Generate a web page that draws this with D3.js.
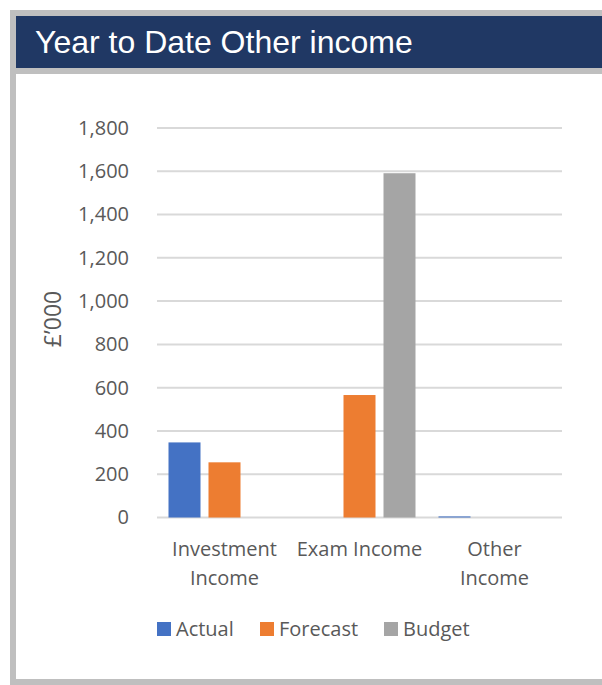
<!DOCTYPE html>
<html>
<head>
<meta charset="utf-8">
<script src="https://cdn.jsdelivr.net/npm/d3@7"></script>
<style>
  body { margin: 0; background: #fff; }
  svg text { font-family: "Open Sans", sans-serif; }
</style>
</head>
<body>
<svg id="svg" width="602" height="685"></svg>
<script>
// Data (£'000)
var categories = ['Investment Income', 'Exam Income', 'Other Income'];
var categoryLines = [['Investment', 'Income'], ['Exam Income'], ['Other', 'Income']];
var seriesNames = ['Actual', 'Forecast', 'Budget'];
var actual = [347, 0, 5];
var forecast = [255, 566, 0];
var budget = [0, 1591, 0];
var yTicks = [0, 200, 400, 600, 800, 1000, 1200, 1400, 1600, 1800];

var colors = ['#4472c4', '#ed7d31', '#a5a5a5'];
var seriesValues = [actual, forecast, budget];

var svg = d3.select('#svg');

// frame + title bar
svg.append('rect').attr('x', 10).attr('y', 10).attr('width', 600).attr('height', 675).attr('fill', '#bfbfbf');
svg.append('rect').attr('x', 16).attr('y', 16).attr('width', 590).attr('height', 52).attr('fill', '#203864');
svg.append('rect').attr('x', 16).attr('y', 74).attr('width', 590).attr('height', 605).attr('fill', '#fff');
svg.append('text')
  .attr('x', 35).attr('y', 53)
  .attr('fill', '#fff')
  .style('font-family', '"Liberation Sans", Arial, sans-serif')
  .style('font-size', '32px')
  .text('Year to Date Other income');

// scales
var plotLeft = 157, plotRight = 562, plotTop = 128, plotBottom = 517.5;
var y = d3.scaleLinear().domain([0, 1800]).range([plotBottom, plotTop]);
var x0 = d3.scaleBand().domain(categories).range([plotLeft, plotRight]);
var x1 = d3.scaleBand().domain(seriesNames)
  .range([11.5, x0.bandwidth() - 11.5])
  .paddingInner(0.2);

// gridlines
svg.append('g').selectAll('line').data(yTicks).enter().append('line')
  .attr('x1', plotLeft).attr('x2', plotRight)
  .attr('y1', d => y(d)).attr('y2', d => y(d))
  .attr('stroke', '#d9d9d9')
  .attr('stroke-width', 2);

// y axis labels
var yAxis = svg.append('g')
  .attr('transform', 'translate(' + (plotLeft - 28) + ',0)')
  .call(d3.axisLeft(y).tickValues(yTicks).tickFormat(d3.format(',')).tickSize(0).tickPadding(0));
yAxis.select('.domain').remove();
yAxis.selectAll('text')
  .attr('fill', '#595959')
  .style('font-size', '20px')
  .style('font-family', '"Open Sans", sans-serif');

// y title
svg.append('text')
  .attr('transform', 'translate(61,319) rotate(-90)')
  .attr('text-anchor', 'middle')
  .attr('fill', '#595959')
  .style('font-size', '23px')
  .text('£’000');

// bars
var groups = svg.append('g').selectAll('g').data(categories).enter().append('g')
  .attr('transform', d => 'translate(' + x0(d) + ',0)');
groups.selectAll('rect')
  .data((d, i) => seriesNames.map((s, j) => ({ series: s, value: seriesValues[j][i], color: colors[j] })))
  .enter().append('rect')
  .attr('x', d => x1(d.series))
  .attr('width', x1.bandwidth())
  .attr('y', d => y(d.value))
  .attr('height', d => y(0) - y(d.value))
  .attr('fill', d => d.color);

// category labels
var catLabels = svg.append('g').selectAll('text').data(categories).enter().append('text')
  .attr('x', d => x0(d) + x0.bandwidth() / 2)
  .attr('y', 556)
  .attr('text-anchor', 'middle')
  .attr('fill', '#595959')
  .style('font-size', '20px');
catLabels.selectAll('tspan')
  .data((d, i) => categoryLines[i])
  .enter().append('tspan')
  .attr('x', function() { return d3.select(this.parentNode).attr('x'); })
  .attr('dy', (d, i) => i === 0 ? 0 : 29)
  .text(d => d);

// legend
var legendX = [157, 260, 384];
var legend = svg.append('g').selectAll('g').data(seriesNames).enter().append('g')
  .attr('transform', (d, i) => 'translate(' + legendX[i] + ',622)');
legend.append('rect')
  .attr('width', 14).attr('height', 14)
  .attr('fill', (d, i) => colors[i]);
legend.append('text')
  .attr('x', 19).attr('y', 14)
  .attr('fill', '#595959')
  .style('font-size', '20px')
  .text(d => d);
</script>
</body>
</html>
